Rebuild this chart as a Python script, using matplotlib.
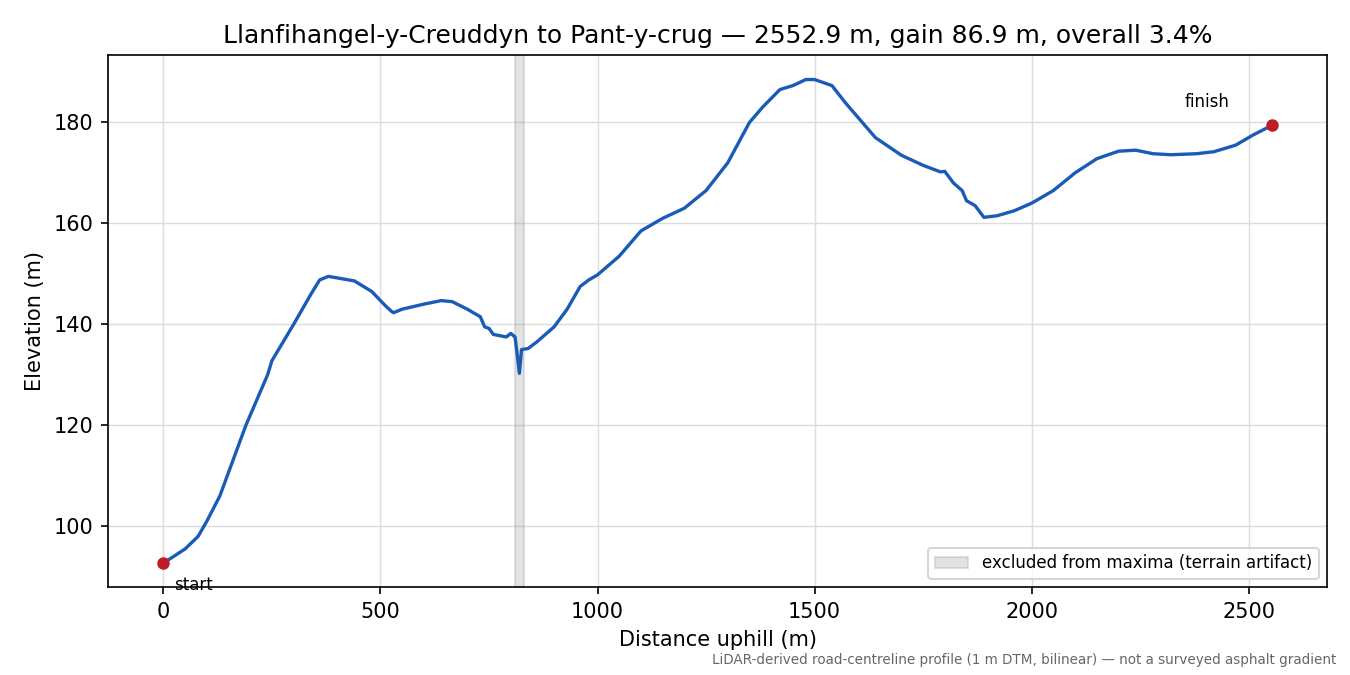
import matplotlib
matplotlib.use("Agg")
import matplotlib.pyplot as plt

dist = [0, 50, 80, 100, 130, 160, 190, 220, 240, 250, 300, 340, 360, 380, 400, 440, 480, 510, 525, 530,
        550, 600, 640, 665, 700, 730, 740, 750, 760, 790, 800, 810, 815, 820, 825, 840, 860, 900, 930, 960,
        980, 1000, 1050, 1100, 1150, 1200, 1250, 1300, 1350, 1380, 1420, 1450, 1480, 1500, 1540, 1570,
        1600, 1640, 1700, 1750, 1790, 1800, 1820, 1840, 1850, 1870, 1890, 1920, 1960, 2000, 2050, 2100,
        2150, 2200, 2240, 2280, 2320, 2380, 2420, 2470, 2510, 2552.9]
elev = [92.7, 95.5, 98, 101, 106, 113, 120, 126, 130, 132.8, 140, 146, 148.8, 149.5, 149.2, 148.6, 146.5, 143.8, 142.6, 142.3,
        143, 144, 144.7, 144.5, 143, 141.5, 139.5, 139.2, 138, 137.5, 138.2, 137.5, 134, 130.3, 135, 135.2, 136.5, 139.5, 143, 147.5,
        148.8, 149.8, 153.5, 158.5, 161, 163, 166.5, 172, 180, 183, 186.5, 187.3, 188.5, 188.5, 187.3, 184,
        181, 177, 173.5, 171.5, 170.2, 170.3, 168, 166.5, 164.5, 163.5, 161.2, 161.5, 162.5, 164, 166.5, 170,
        172.8, 174.3, 174.5, 173.8, 173.6, 173.8, 174.2, 175.5, 177.5, 179.4]
excl = (810, 830)

fig, ax = plt.subplots(figsize=(9, 4.5), dpi=150)
ax.axvspan(excl[0], excl[1], color="#a0a0a0", alpha=0.3, label="excluded from maxima (terrain artifact)")
ax.plot(dist, elev, color="#1a5cb5", lw=1.6)
ax.plot([dist[0], dist[-1]], [elev[0], elev[-1]], "o", color="#c01c28", ms=5, zorder=5)
ax.annotate("start", (dist[0], elev[0]), xytext=(5, -13), textcoords="offset points", fontsize=8)
ax.annotate("finish", (dist[-1], elev[-1]), xytext=(-42, 9), textcoords="offset points", fontsize=8)
ax.grid(True, color="#dddddd", lw=0.7)
ax.set_axisbelow(True)
ax.set_xlabel("Distance uphill (m)")
ax.set_ylabel("Elevation (m)")
ax.set_title("Llanfihangel-y-Creuddyn to Pant-y-crug — 2552.9 m, gain 86.9 m, overall 3.4%")
ax.legend(loc="lower right", fontsize=8)
fig.subplots_adjust(left=0.08, right=0.983, top=0.918, bottom=0.13)
fig.text(0.99, 0.012, "LiDAR-derived road-centreline profile (1 m DTM, bilinear) — not a surveyed asphalt gradient",
         ha="right", va="bottom", fontsize=6.5, color="#666666")
fig.savefig("out.png")
